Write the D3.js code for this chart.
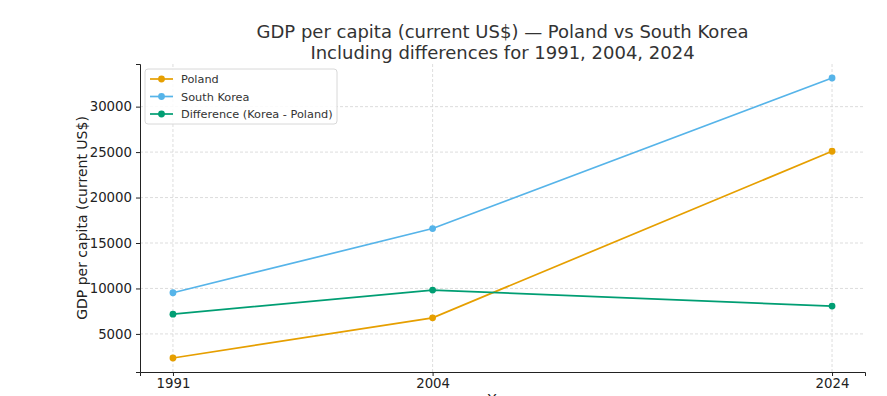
<!DOCTYPE html>
<html>
<head>
<meta charset="utf-8">
<script src="https://cdn.jsdelivr.net/npm/d3@7"></script>
<style>
  body { margin: 0; background: #fff; }
  svg { display: block; font-family: "DejaVu Sans", sans-serif; }
</style>
</head>
<body>
<svg id="chart" width="887" height="396"></svg>
<script>
// data
let years = [1991, 2004, 2024];
let poland = [2350, 6770, 25090];
let korea = [9525, 16590, 33150];
let diff = [7175, 9820, 8060];
let yTicks = [5000, 10000, 15000, 20000, 25000, 30000];

let seriesNames = ['Poland', 'South Korea', 'Difference (Korea - Poland)'];
let seriesColors = ['#E69F00', '#56B4E9', '#009E73'];
let seriesValues = [poland, korea, diff];

var margin = { left: 140, right: 22, top: 64, bottom: 24 };
var W = 887, H = 396;

var svg = d3.select('#chart');

// matplotlib style 5% margins around the data
var xPad = (years[years.length - 1] - years[0]) * 0.05;
var allY = poland.concat(korea, diff);
var yMin = d3.min(allY), yMax = d3.max(allY);
var yPad = (yMax - yMin) * 0.05;

var x = d3.scaleLinear()
    .domain([years[0] - xPad, years[years.length - 1] + xPad])
    .range([margin.left, W - margin.right]);
var y = d3.scaleLinear()
    .domain([yMin - yPad, yMax + yPad])
    .range([H - margin.bottom, margin.top]);

// grid
var grid = svg.append('g').attr('class', 'grid');
grid.selectAll('.gx').data(years).enter().append('line')
    .attr('x1', d => x(d)).attr('x2', d => x(d))
    .attr('y1', y.range()[0]).attr('y2', y.range()[1])
    .attr('stroke', '#d4d4d4').attr('stroke-width', 0.8).attr('stroke-dasharray', '3,2');
grid.selectAll('.gy').data(yTicks).enter().append('line')
    .attr('x1', x.range()[0]).attr('x2', x.range()[1])
    .attr('y1', d => y(d)).attr('y2', d => y(d))
    .attr('stroke', '#d4d4d4').attr('stroke-width', 0.8).attr('stroke-dasharray', '3,2');

// axes
var xAxis = svg.append('g')
    .attr('transform', 'translate(0,' + (H - margin.bottom) + ')')
    .call(d3.axisBottom(x).tickValues(years).tickFormat(d3.format('d')).tickSizeOuter(0).tickSize(4).tickPadding(3));
var yAxis = svg.append('g')
    .attr('transform', 'translate(' + margin.left + ',0)')
    .call(d3.axisLeft(y).tickValues(yTicks).tickFormat(d3.format('d')).tickSizeOuter(0).tickSize(4).tickPadding(4));
[xAxis, yAxis].forEach(function(a) {
    a.attr('font-family', 'DejaVu Sans, sans-serif');
    a.select('.domain').attr('stroke', '#222').attr('stroke-width', 1);
    a.selectAll('.tick line').attr('stroke', '#222');
    a.selectAll('.tick text').attr('fill', '#222').style('font-size', '13.3px');
});

// axis titles
svg.append('text')
    .attr('transform', 'translate(87,' + ((y.range()[0] + y.range()[1]) / 2) + ') rotate(-90)')
    .attr('text-anchor', 'middle')
    .attr('fill', '#222')
    .style('font-size', '14px')
    .text('GDP per capita (current US$)');
// the reference cuts this one off at the bottom edge
svg.append('text')
    .attr('x', (x.range()[0] + x.range()[1]) / 2)
    .attr('y', 404)
    .attr('text-anchor', 'middle')
    .attr('fill', '#222')
    .style('font-size', '14px')
    .text('Year');

// title
var cx = (x.range()[0] + x.range()[1]) / 2;
svg.append('text').attr('x', cx).attr('y', 38).attr('text-anchor', 'middle')
    .attr('fill', '#333').style('font-size', '18px')
    .text('GDP per capita (current US$) \u2014 Poland vs South Korea');
svg.append('text').attr('x', cx).attr('y', 59).attr('text-anchor', 'middle')
    .attr('fill', '#333').style('font-size', '18px')
    .text('Including differences for 1991, 2004, 2024');

// lines
var line = d3.line().x((d, i) => x(years[i])).y(d => y(d));
seriesValues.forEach(function(vals, k) {
    var g = svg.append('g').attr('class', 'series' + k);
    g.append('path').datum(vals)
        .attr('d', line)
        .attr('fill', 'none')
        .attr('stroke', seriesColors[k])
        .attr('stroke-width', 1.7);
    g.selectAll('circle').data(vals).enter().append('circle')
        .attr('cx', (d, i) => x(years[i]))
        .attr('cy', d => y(d))
        .attr('r', 3.4)
        .attr('fill', seriesColors[k]);
});

// legend
var lg = svg.append('g').attr('transform', 'translate(145,69)');
lg.append('rect').attr('width', 192).attr('height', 55).attr('rx', 3)
    .attr('fill', 'rgba(255,255,255,0.85)').attr('stroke', '#d8d8d8');
seriesNames.forEach(function(name, k) {
    var row = lg.append('g').attr('transform', 'translate(0,' + (10 + k * 17.5) + ')');
    row.append('line').attr('x1', 5).attr('x2', 28).attr('y1', 0).attr('y2', 0)
        .attr('stroke', seriesColors[k]).attr('stroke-width', 1.7);
    row.append('circle').attr('cx', 16.5).attr('cy', 0).attr('r', 3.4).attr('fill', seriesColors[k]);
    row.append('text').attr('x', 36).attr('y', 4).attr('fill', '#333')
        .style('font-size', '11.3px').text(name);
});
</script>
</body>
</html>
